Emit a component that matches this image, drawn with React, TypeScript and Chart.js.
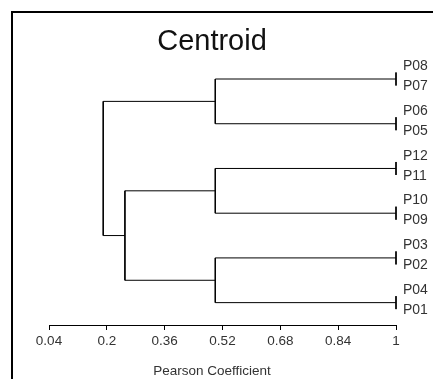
import React, { useEffect, useRef } from 'react';
import { Chart, registerables } from 'chart.js';

Chart.register(...registerables);

// ---- data ----
const leafNames = ['P08', 'P07', 'P06', 'P05', 'P12', 'P11', 'P10', 'P09', 'P03', 'P02', 'P04', 'P01'];
// merges (linkage): node ids 0..11 are leaves, merge k creates node 12+k
const mergeLeft = [0, 2, 4, 6, 8, 10, 12, 14, 16, 19, 18];
const mergeRight = [1, 3, 5, 7, 9, 11, 13, 15, 17, 20, 21];
const mergeHeight = [1, 1, 1, 1, 1, 1, 0.5, 0.5, 0.5, 0.25, 0.19];
const leafCoefficient = 1;
const xTickValues = [0.04, 0.2, 0.36, 0.52, 0.68, 0.84, 1];
const xTickLabels = ['0.04', '0.2', '0.36', '0.52', '0.68', '0.84', '1'];
const chartTitle = 'Centroid';
const axisTitle = 'Pearson Coefficient';

// ---- layout helpers (leaf slots) ----
const pairCenter = (i: number) => 2 * Math.floor(i / 2) + 1;
const leafY = (i: number) => pairCenter(i) + (i % 2 ? 0.29 : -0.29);
const labelY = (i: number) => pairCenter(i) + (i % 2 ? 0.33 : -0.57);

function buildSegments() {
  const nx: number[] = [];
  const ny: number[] = [];
  leafNames.forEach((_, i) => {
    nx.push(leafCoefficient);
    ny.push(leafY(i));
  });
  const sets: { x: number; y: number }[][] = [];
  mergeHeight.forEach((h, k) => {
    const a = mergeLeft[k];
    const b = mergeRight[k];
    sets.push([
      { x: nx[a], y: ny[a] },
      { x: h, y: ny[a] },
      { x: h, y: ny[b] },
      { x: nx[b], y: ny[b] },
    ]);
    nx.push(h);
    ny.push((ny[a] + ny[b]) / 2);
  });
  return sets;
}

const framePlugin = {
  id: 'frame',
  beforeDraw(chart: any) {
    const ctx = chart.ctx;
    ctx.save();
    ctx.fillStyle = '#000';
    ctx.fillRect(11, 11, 2, chart.height);
    ctx.fillRect(11, 11, chart.width, 2);
    ctx.restore();
  },
};

const FONT = "'Liberation Sans', Arial, sans-serif";

export default function App() {
  const ref = useRef<HTMLCanvasElement>(null);
  useEffect(() => {
    if (!ref.current) return;
    const segs = buildSegments();
    const chart = new Chart(ref.current, {
      type: 'scatter',
      data: {
        datasets: segs.map((d) => ({
          data: d,
          showLine: true,
          borderColor: '#000',
          borderWidth: 1,
          pointRadius: 0,
          fill: false,
          tension: 0,
          clip: false as any,
          xAxisID: 'x',
          yAxisID: 'y',
        })),
      },
      options: {
        animation: false,
        responsive: false,
        events: [],
        layout: { padding: { left: -9, right: 0, top: 0, bottom: 0 } },
        plugins: {
          legend: { display: false },
          tooltip: { enabled: false },
          title: {
            display: true,
            text: chartTitle,
            position: 'top',
            align: 'center',
            color: '#111',
            font: { family: FONT, size: 29, weight: 'normal', lineHeight: 1 },
            padding: { top: 27.5, bottom: 0.15 },
          },
          subtitle: {
            display: true,
            text: axisTitle,
            position: 'bottom',
            align: 'center',
            color: '#333',
            font: { family: FONT, size: 13.5, weight: 'normal', lineHeight: 1.2 },
            padding: { top: 0, bottom: 0 },
          },
        },
        scales: {
          x: {
            type: 'linear',
            position: 'bottom',
            min: 0.04,
            max: 1,
            afterBuildTicks: (s: any) => {
              s.ticks = xTickValues.map((v) => ({ value: v }));
            },
            afterFit: (s: any) => {
              s.height = 37.8;
            },
            ticks: {
              callback: (_v: any, i: number) => xTickLabels[i],
              autoSkip: false,
              maxRotation: 0,
              padding: 3,
              color: '#333',
              font: { family: FONT, size: 13.5 },
            },
            grid: { drawOnChartArea: false, drawTicks: true, tickLength: 5, color: '#000', lineWidth: 1 },
            border: { display: true, color: '#000', width: 1 },
          },
          yl: {
            type: 'linear',
            position: 'left',
            display: true,
            min: 0,
            max: 12,
            ticks: { display: false },
            grid: { display: false, drawTicks: false },
            border: { display: false },
            afterFit: (s: any) => {
              s.width = 58;
            },
          },
          y: {
            type: 'linear',
            position: 'right',
            reverse: true,
            min: 0,
            max: 12,
            afterBuildTicks: (s: any) => {
              s.ticks = leafNames.map((_, i) => ({ value: labelY(i) }));
            },
            afterFit: (s: any) => {
              s.width = 37;
            },
            ticks: {
              callback: (_v: any, i: number) => leafNames[i],
              autoSkip: false,
              padding: 7,
              color: '#333',
              font: { family: FONT, size: 14 },
            },
            grid: { display: false, drawTicks: false },
            border: { display: false },
          },
        },
      } as any,
      plugins: [framePlugin],
    });
    return () => chart.destroy();
  }, []);
  return (
    <div style={{ position: 'absolute', left: 0, top: 0, width: 433, height: 379 }}>
      <canvas ref={ref} width={433} height={379} />
    </div>
  );
}
